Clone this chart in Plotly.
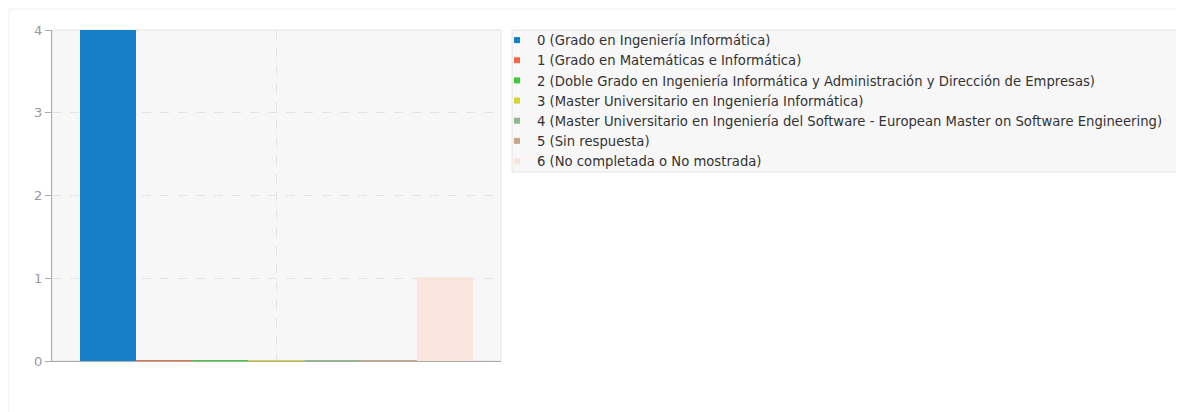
import plotly.graph_objects as go

categories = [0, 1, 2, 3, 4, 5, 6]
labels = [
    "0 (Grado en Ingeniería Informática)",
    "1 (Grado en Matemáticas e Informática)",
    "2 (Doble Grado en Ingeniería Informática y Administración y Dirección de Empresas)",
    "3 (Master Universitario en Ingeniería Informática)",
    "4 (Master Universitario en Ingeniería del Software - European Master on Software Engineering)",
    "5 (Sin respuesta)",
    "6 (No completada o No mostrada)",
]
values = [4, 0, 0, 0, 0, 0, 1]
colors = ["#1580c8", "#f06a45", "#3acc3a", "#d6d630", "#8cb88c", "#c9a688", "#f9e5dd"]
y_ticks = [0, 1, 2, 3, 4]

fig = go.Figure()

for c, v, col, lab in zip(categories, values, colors, labels):
    fig.add_trace(go.Bar(
        x=[c], y=[v], width=1, marker=dict(color=col, line=dict(width=0)),
        showlegend=False, hoverinfo="skip",
    ))
    # thin edge so zero-height bars remain visible
    fig.add_trace(go.Scatter(
        x=[c - 0.5, c + 0.5], y=[v, v], mode="lines",
        line=dict(color=col, width=2), showlegend=False, hoverinfo="skip",
        cliponaxis=False,
    ))
    fig.add_trace(go.Scatter(
        x=[None], y=[None], mode="markers", name=lab,
        marker=dict(symbol="square", size=6, color=col),
    ))

OFF = 8  # page body margin
W, H = 1176, 404
L = 52 - OFF
T = 30 - OFF
R = W - (501 - OFF)
B = H - (361 - OFF)
pw, ph = W - L - R, H - T - B

def px(xp):
    return (xp - OFF - L) / pw

def py(yp):
    return (H - B - (yp - OFF)) / ph

shapes = [
    # outer card (mostly outside the drawable area; left/top edges faint)
    dict(type="rect", xref="paper", yref="paper", x0=px(9), x1=px(1200), y0=py(440), y1=py(9),
         line=dict(color="#f0f0f0", width=1), fillcolor="rgba(0,0,0,0)", layer="below"),
    # plot frame
    dict(type="rect", xref="paper", yref="paper", x0=0, x1=1, y0=0, y1=1,
         line=dict(color="#e6e6e6", width=1), fillcolor="rgba(0,0,0,0)", layer="below"),
    # legend box
    dict(type="rect", xref="paper", yref="paper", x0=px(512), x1=px(1182), y0=py(172), y1=py(30),
         line=dict(color="#e6e6e6", width=1), fillcolor="#f7f7f7", layer="below"),
]

fig.update_layout(
    width=W, height=H,
    margin=dict(l=L, r=R, t=T, b=B, pad=0),
    paper_bgcolor="white",
    plot_bgcolor="#f7f7f7",
    barmode="overlay",
    bargap=0,
    shapes=shapes,
    font=dict(family="DejaVu Sans", size=13, color="#333"),
    showlegend=True,
    legend=dict(
        x=px(497), xanchor="left", y=py(25), yanchor="top",
        bgcolor="rgba(0,0,0,0)", borderwidth=0,
        font=dict(family="DejaVu Sans", size=13.2, color="#333"),
        itemwidth=30, tracegroupgap=0,
    ),
    xaxis=dict(
        range=[-1, 7], tickvals=[3], showticklabels=False, ticks="",
        showgrid=True, gridcolor="#e2e2e2", griddash="dash", gridwidth=1,
        zeroline=False, showline=True, linecolor="#aaaaaa", linewidth=1,
        fixedrange=True,
    ),
    yaxis=dict(
        range=[0, 4], tickvals=y_ticks, ticks="outside", ticklen=6, tickcolor="#aaaaaa",
        tickfont=dict(family="DejaVu Sans", size=13, color="#999999"),
        showgrid=True, gridcolor="#e2e2e2", griddash="dash", gridwidth=1,
        zeroline=False, showline=True, linecolor="#aaaaaa", linewidth=1,
        fixedrange=True,
    ),
)

fig.write_html("out.html")
